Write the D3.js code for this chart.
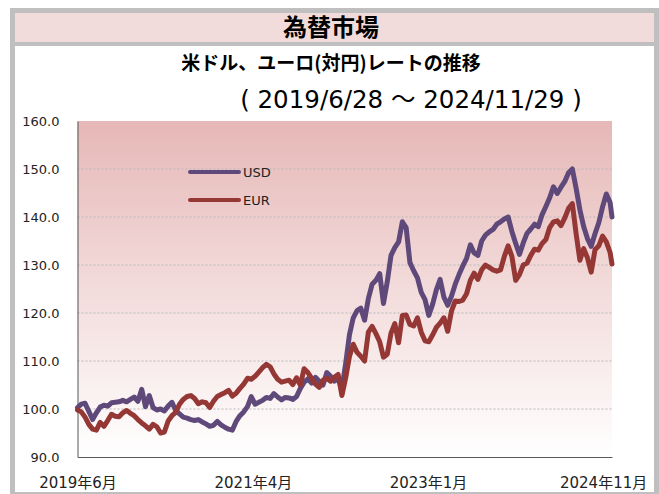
<!DOCTYPE html>
<html>
<head>
<meta charset="utf-8">
<script src="https://cdn.jsdelivr.net/npm/d3@7"></script>
<style>
body { margin: 0; background: #fff; }
</style>
</head>
<body>
<div id="chart"></div>
<script>
// 2019/6/28 = 100 とした指数、2週ごと（最後は 2024/11/29）
var startDate = "2019-06-28", endDate = "2024-11-29";

var usd = [100.3,101.0,101.2,99.5,97.8,99.2,100.4,100.8,100.6,101.3,101.4,101.5,101.8,101.5,102.0,102.5,101.6,104.1,100.5,102.8,
  100.3,99.8,100.0,99.6,100.6,101.4,99.7,99.0,98.3,98.1,97.8,97.6,97.8,97.3,96.9,96.4,96.6,97.4,96.7,96.2,
  95.8,95.6,97.4,98.6,99.4,100.5,102.6,101.0,101.4,101.8,102.4,102.2,103.2,102.5,101.9,102.4,102.3,102.0,102.6,104.3,
  105.6,106.3,105.4,106.6,105.8,105.0,107.6,106.8,105.8,106.3,104.3,109.5,115.5,119.0,120.5,121.0,118.5,123.0,126.0,126.8,
  128.2,122.0,126.5,132.0,133.6,134.8,139.0,137.8,130.5,128.8,127.3,124.3,122.8,119.5,121.8,124.8,127.0,123.3,121.6,123.5,
  126.0,128.0,129.8,131.4,134.2,132.5,132.0,135.0,136.2,136.9,137.4,138.5,139.0,139.6,140.0,137.0,134.5,132.2,134.6,136.6,
  137.5,138.5,138.0,140.5,142.2,144.0,146.3,144.9,146.2,147.4,149.2,150.0,146.0,141.5,138.0,135.5,133.9,136.5,138.8,142.1,
  144.8,143.0,140.0];

var eur = [99.8,99.4,98.3,96.8,95.8,95.6,97.2,96.4,97.6,98.9,98.5,98.4,99.2,99.7,99.1,98.6,97.8,97.1,96.5,95.8,
  96.8,96.3,95.0,95.2,97.5,98.6,99.3,101.0,102.0,102.6,102.8,102.2,101.1,101.5,101.3,100.3,101.6,102.6,103.0,103.4,
  103.9,102.7,103.3,104.3,105.2,106.4,106.2,106.8,107.7,108.6,109.3,108.8,107.3,106.2,105.6,105.8,106.0,105.1,106.5,105.0,
  108.4,107.6,106.4,105.2,104.5,106.0,106.4,105.8,106.6,107.2,102.8,106.5,111.0,113.5,111.8,111.0,110.0,116.0,117.2,115.7,
  114.0,110.8,111.4,115.8,117.8,113.8,119.5,119.6,117.6,117.3,119.0,116.0,114.2,114.0,115.4,117.0,117.9,119.0,116.2,120.4,
  122.5,122.4,122.7,124.0,126.8,128.3,127.0,129.0,130.0,129.5,129.0,128.7,129.0,131.8,134.0,131.8,126.8,128.0,130.0,130.4,
  132.0,133.3,133.1,134.5,135.3,137.8,139.0,139.2,138.2,139.8,141.8,142.8,136.5,131.0,133.4,131.5,128.5,133.2,134.0,136.0,
  134.8,132.6,130.2];

var seriesNames = ["USD", "EUR"];
var seriesColors = ["#5f497a", "#953735"];
var yTicks = [90, 100, 110, 120, 130, 140, 150, 160];
var gridValues = [100, 110, 120, 130, 140, 150];
var xTickDates = ["2019-06-28", "2021-04-08", "2023-01-17", "2024-10-27"];
var xTickLabels = ["2019年6月", "2021年4月", "2023年1月", "2024年11月"];

var width = 659, height = 494;
var plot = {left: 77.5, right: 612, top: 121, bottom: 457};
var jp = "'Noto Sans CJK JP', sans-serif";

var parse = d3.timeParse("%Y-%m-%d");
var t0 = parse(startDate), t1 = parse(endDate);
var dates = usd.map(function(d, i) {
  return i < usd.length - 1 ? d3.timeDay.offset(t0, i * 14) : t1;
});

var svg = d3.select("#chart").append("svg")
    .attr("width", width)
    .attr("height", height);

// 外枠・タイトル帯
svg.append("rect").attr("x", 10).attr("y", 8).attr("width", 649).attr("height", 486).attr("fill", "#bfbfbf");
svg.append("rect").attr("x", 15).attr("y", 13).attr("width", 639).attr("height", 479).attr("fill", "#fff");
svg.append("rect").attr("x", 15).attr("y", 13).attr("width", 639).attr("height", 29).attr("fill", "#f2dcdb");
svg.append("rect").attr("x", 15).attr("y", 42).attr("width", 639).attr("height", 4).attr("fill", "#bfbfbf");

svg.append("text").attr("x", 331).attr("y", 36)
    .attr("text-anchor", "middle").style("font-family", jp)
    .style("font-size", "24px").style("font-weight", "bold")
    .text("為替市場");
svg.append("text").attr("x", 331).attr("y", 70)
    .attr("text-anchor", "middle").style("font-family", jp)
    .style("font-size", "19px").style("font-weight", "bold")
    .text("米ドル、ユーロ(対円)レートの推移");
svg.append("text").attr("x", 411).attr("y", 108)
    .attr("text-anchor", "middle").style("font-family", "'DejaVu Sans', " + jp)
    .style("font-size", "24.5px")
    .text("( 2019/6/28 ～ 2024/11/29 )");

var x = d3.scaleTime().domain([t0, t1]).range([plot.left, plot.right]);
var y = d3.scaleLinear().domain([90, 160]).range([plot.bottom, plot.top]);

// 背景グラデーション
var grad = svg.append("defs").append("linearGradient")
    .attr("id", "bg").attr("x1", 0).attr("y1", 0).attr("x2", 0).attr("y2", 1);
grad.append("stop").attr("offset", "0%").attr("stop-color", "#e6b8b7");
grad.append("stop").attr("offset", "100%").attr("stop-color", "#ffffff");

svg.append("rect")
    .attr("x", plot.left).attr("y", plot.top)
    .attr("width", plot.right - plot.left).attr("height", plot.bottom - plot.top)
    .attr("fill", "url(#bg)");

svg.append("g").selectAll("line")
    .data(gridValues)
  .enter().append("line")
    .attr("x1", plot.left).attr("x2", plot.right)
    .attr("y1", function(d) { return y(d); })
    .attr("y2", function(d) { return y(d); })
    .style("stroke", "#b8b8b8")
    .style("stroke-width", 1)
    .style("stroke-dasharray", "2,2");

// 軸
var yAxis = svg.append("g")
    .attr("transform", "translate(" + plot.left + ",0)")
    .call(d3.axisLeft(y).tickValues(yTicks).tickFormat(d3.format(".1f")).tickSize(0).tickPadding(18));
var xAxis = svg.append("g")
    .attr("transform", "translate(0," + plot.bottom + ")")
    .call(d3.axisBottom(x).tickValues(xTickDates.map(parse))
      .tickFormat(function(d, i) { return xTickLabels[i]; }).tickSize(0).tickPadding(20));

yAxis.selectAll("text").style("font-family", "'DejaVu Sans', sans-serif").style("font-size", "13px").style("fill", "#222");
xAxis.selectAll("text").style("font-family", "'DejaVu Sans', " + jp).style("font-size", "15px").style("fill", "#222");
svg.selectAll(".domain").style("stroke", "#595959").style("stroke-width", 1);

// 折れ線
var line = d3.line()
    .x(function(d, i) { return x(dates[i]); })
    .y(function(d) { return y(d); });

[usd, eur].forEach(function(s, k) {
  svg.append("path")
      .datum(s)
      .attr("d", line)
      .style("fill", "none")
      .style("stroke", seriesColors[k])
      .style("stroke-width", 5)
      .style("stroke-linejoin", "round")
      .style("stroke-linecap", "round");
});

// 凡例
var legend = svg.append("g").selectAll("g")
    .data(seriesNames)
  .enter().append("g")
    .attr("transform", function(d, i) { return "translate(190," + (172 + i * 28) + ")"; });
legend.append("line")
    .attr("x1", 0).attr("x2", 49)
    .style("stroke", function(d, i) { return seriesColors[i]; })
    .style("stroke-width", 4)
    .style("stroke-linecap", "round");
legend.append("text")
    .attr("x", 53).attr("dy", "0.35em")
    .style("font-family", "'DejaVu Sans', sans-serif").style("font-size", "13px").style("fill", "#222")
    .text(function(d) { return d; });
</script>
</body>
</html>
